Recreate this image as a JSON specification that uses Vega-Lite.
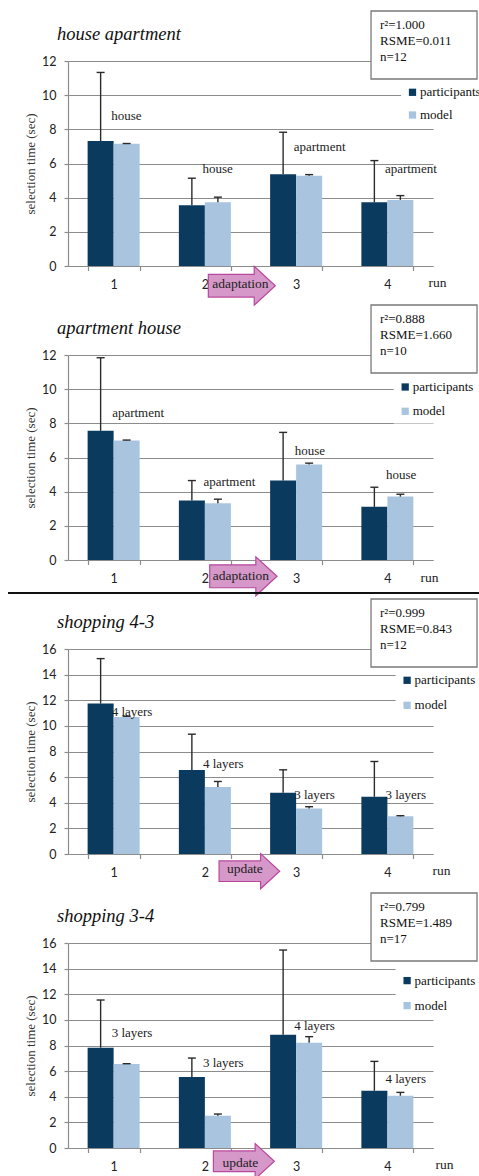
{
  "$schema": "https://vega.github.io/schema/vega-lite/v6.json",
  "padding": {"left": 7, "top": 8, "right": 0, "bottom": 0},
  "background": "white",
  "config": {
    "view": {"stroke": null},
    "font": "Liberation Serif",
    "title": {"font": "Liberation Serif", "fontStyle": "italic", "fontSize": 18.5, "fontWeight": "normal", "color": "#111111"},
    "axis": {"domainColor": "#8c8c8c", "tickColor": "#8c8c8c", "gridColor": "#8c8c8c", "gridWidth": 1.2, "domainWidth": 1.2, "tickWidth": 1.2,
      "labelFont": "Lato", "labelFontSize": 12.5, "labelColor": "#222222", "labelOverlap": false,
      "titleFont": "Liberation Serif", "titleFontSize": 13, "titleFontWeight": "normal", "titleColor": "#333333"},
    "axisX": {"labelAngle": 0, "tickBand": "extent", "grid": false, "tickSize": 4.5, "labelPadding": 7.5, "titleAlign": "left", "titleBaseline": "alphabetic", "titleFontSize": 13.5, "titleColor": "#222222"},
    "axisY": {"grid": true, "tickSize": 4, "labelPadding": 8, "titlePadding": 4},
    "legend": {"fillColor": "white", "padding": 5, "symbolType": "square", "symbolSize": 53, "symbolStrokeWidth": 0, "labelFont": "Liberation Serif", "labelFontSize": 13, "labelColor": "#111111", "labelOffset": 1, "labelLimit": 200}
  },
  "datasets": {
    "bars": [
      {"panel": "ha", "run": "1", "series": "participants", "value": 7.31, "upper": 11.33},
      {"panel": "ha", "run": "1", "series": "model", "value": 7.15, "upper": 7.17},
      {"panel": "ha", "run": "2", "series": "participants", "value": 3.56, "upper": 5.14},
      {"panel": "ha", "run": "2", "series": "model", "value": 3.73, "upper": 4.03},
      {"panel": "ha", "run": "3", "series": "participants", "value": 5.37, "upper": 7.83},
      {"panel": "ha", "run": "3", "series": "model", "value": 5.29, "upper": 5.35},
      {"panel": "ha", "run": "4", "series": "participants", "value": 3.73, "upper": 6.17},
      {"panel": "ha", "run": "4", "series": "model", "value": 3.87, "upper": 4.12},
      {"panel": "ah", "run": "1", "series": "participants", "value": 7.56, "upper": 11.84},
      {"panel": "ah", "run": "1", "series": "model", "value": 7.0, "upper": 7.02},
      {"panel": "ah", "run": "2", "series": "participants", "value": 3.48, "upper": 4.65},
      {"panel": "ah", "run": "2", "series": "model", "value": 3.32, "upper": 3.56},
      {"panel": "ah", "run": "3", "series": "participants", "value": 4.65, "upper": 7.47},
      {"panel": "ah", "run": "3", "series": "model", "value": 5.59, "upper": 5.67},
      {"panel": "ah", "run": "4", "series": "participants", "value": 3.11, "upper": 4.26},
      {"panel": "ah", "run": "4", "series": "model", "value": 3.71, "upper": 3.85},
      {"panel": "s43", "run": "1", "series": "participants", "value": 11.74, "upper": 15.25},
      {"panel": "s43", "run": "1", "series": "model", "value": 10.7, "upper": 10.75},
      {"panel": "s43", "run": "2", "series": "participants", "value": 6.55, "upper": 9.35},
      {"panel": "s43", "run": "2", "series": "model", "value": 5.22, "upper": 5.66},
      {"panel": "s43", "run": "3", "series": "participants", "value": 4.78, "upper": 6.57},
      {"panel": "s43", "run": "3", "series": "model", "value": 3.56, "upper": 3.69},
      {"panel": "s43", "run": "4", "series": "participants", "value": 4.47, "upper": 7.22},
      {"panel": "s43", "run": "4", "series": "model", "value": 2.94, "upper": 2.99},
      {"panel": "s34", "run": "1", "series": "participants", "value": 7.83, "upper": 11.55},
      {"panel": "s34", "run": "1", "series": "model", "value": 6.56, "upper": 6.58},
      {"panel": "s34", "run": "2", "series": "participants", "value": 5.54, "upper": 7.02},
      {"panel": "s34", "run": "2", "series": "model", "value": 2.52, "upper": 2.65},
      {"panel": "s34", "run": "3", "series": "participants", "value": 8.84, "upper": 15.45},
      {"panel": "s34", "run": "3", "series": "model", "value": 8.22, "upper": 8.69},
      {"panel": "s34", "run": "4", "series": "participants", "value": 4.47, "upper": 6.76},
      {"panel": "s34", "run": "4", "series": "model", "value": 4.08, "upper": 4.34}
    ],
    "labels": [
      {"panel": "ha", "run": "1", "label": "house", "y": 8.52},
      {"panel": "ha", "run": "2", "label": "house", "y": 5.43},
      {"panel": "ha", "run": "3", "label": "apartment", "y": 6.76},
      {"panel": "ha", "run": "4", "label": "apartment", "y": 5.43},
      {"panel": "ah", "run": "1", "label": "apartment", "y": 8.36},
      {"panel": "ah", "run": "2", "label": "apartment", "y": 4.34},
      {"panel": "ah", "run": "3", "label": "house", "y": 6.12},
      {"panel": "ah", "run": "4", "label": "house", "y": 4.77},
      {"panel": "s43", "run": "1", "label": "4 layers", "y": 10.8},
      {"panel": "s43", "run": "2", "label": "4 layers", "y": 6.68},
      {"panel": "s43", "run": "3", "label": "3 layers", "y": 4.31},
      {"panel": "s43", "run": "4", "label": "3 layers", "y": 4.31},
      {"panel": "s34", "run": "1", "label": "3 layers", "y": 8.66},
      {"panel": "s34", "run": "2", "label": "3 layers", "y": 6.3},
      {"panel": "s34", "run": "3", "label": "4 layers", "y": 9.21},
      {"panel": "s34", "run": "4", "label": "4 layers", "y": 5.07}
    ],
    "stats": [
      {"panel": "ha", "text": "r²=1.000\nRSME=0.011\nn=12"},
      {"panel": "ah", "text": "r²=0.888\nRSME=1.660\nn=10"},
      {"panel": "s43", "text": "r²=0.999\nRSME=0.843\nn=12"},
      {"panel": "s34", "text": "r²=0.799\nRSME=1.489\nn=17"}
    ],
    "notes": [
      {"panel": "ha", "run": "2", "note": "adaptation"},
      {"panel": "ah", "run": "2", "note": "adaptation"},
      {"panel": "s43", "run": "2", "note": "update"},
      {"panel": "s34", "run": "2", "note": "update"}
    ]
  },
  "bounds": "flush",
  "spacing": 89,
  "resolve": {"scale": {"x": "independent", "y": "independent", "color": "independent", "xOffset": "independent"}, "legend": {"color": "independent"}},
  "vconcat": [
    {
      "width": 365, "height": 205,
      "title": {"text": "house apartment", "anchor": "start", "frame": "group", "dx": -11, "offset": -49.7, "baseline": "alphabetic"},
      "layer": [
        {"data": {"name": "bars"}, "transform": [{"filter": {"field": "panel", "equal": "ha"}}],
          "mark": {"type": "bar"},
          "encoding": {
            "x": {"field": "run", "type": "nominal", "title": "run", "scale": {"domain": ["1", "2", "3", "4"], "paddingInner": 0.43, "paddingOuter": 0.215}, "axis": {"titleX": 360, "titleY": 20.7}},
            "xOffset": {"field": "series", "type": "nominal", "scale": {"domain": ["participants", "model"]}},
            "y": {"field": "value", "type": "quantitative", "title": "selection time (sec)", "scale": {"domain": [0, 12], "nice": false}, "axis": {"values": [0, 2, 4, 6, 8, 10, 12], "tickCount": 7}},
            "color": {"field": "series", "type": "nominal", "scale": {"domain": ["participants", "model"], "range": ["#0B3A5F", "#A9C4DF"]}, "legend": {"title": null, "orient": "none", "legendX": 333, "legendY": 19.8, "rowPadding": 8.7}}
          }},
        {"data": {"name": "bars"}, "transform": [{"filter": {"field": "panel", "equal": "ha"}}],
          "mark": {"type": "rule", "color": "#2b2b2b", "strokeWidth": 1.4},
          "encoding": {"x": {"field": "run", "type": "nominal"}, "xOffset": {"field": "series", "type": "nominal"}, "y": {"field": "value", "type": "quantitative"}, "y2": {"field": "upper"}}},
        {"data": {"name": "bars"}, "transform": [{"filter": {"field": "panel", "equal": "ha"}}],
          "mark": {"type": "tick", "orient": "horizontal", "size": 8, "thickness": 1.4, "color": "#2b2b2b", "opacity": 1},
          "encoding": {"x": {"field": "run", "type": "nominal"}, "xOffset": {"field": "series", "type": "nominal"}, "y": {"field": "upper", "type": "quantitative"}}},
        {"data": {"name": "labels"}, "transform": [{"filter": {"field": "panel", "equal": "ha"}}],
          "mark": {"type": "text", "align": "left", "baseline": "alphabetic", "dx": -2.5, "font": "Liberation Serif", "fontSize": 13, "color": "#222222"},
          "encoding": {"x": {"field": "run", "type": "nominal"}, "y": {"field": "y", "type": "quantitative"}, "text": {"field": "label"}}},
        {"data": {"name": "notes"}, "transform": [{"filter": {"field": "panel", "equal": "ha"}}],
          "mark": {"type": "point", "shape": "M-1,-0.34L0.37,-0.34L0.37,-0.58L1,0L0.37,0.58L0.37,0.34L-1,0.34Z", "size": 4489, "filled": true, "fill": "#D598C8", "stroke": "#B8489E", "strokeWidth": 1.2, "opacity": 1, "xOffset": 36.95, "yOffset": 19.7},
          "encoding": {"x": {"field": "run", "type": "nominal"}, "y": {"datum": 0, "type": "quantitative"}}},
        {"data": {"name": "notes"}, "transform": [{"filter": {"field": "panel", "equal": "ha"}}],
          "mark": {"type": "text", "align": "center", "baseline": "alphabetic", "dx": 35.6, "dy": 22.3, "font": "Liberation Serif", "fontSize": 13.5, "color": "#222222"},
          "encoding": {"x": {"field": "run", "type": "nominal"}, "y": {"datum": 0, "type": "quantitative"}, "text": {"field": "note"}}},
        {"data": {"name": "stats"}, "transform": [{"filter": {"field": "panel", "equal": "ha"}}],
          "mark": {"type": "point", "shape": "M-1,-0.6415L1,-0.6415L1,0.6415L-1,0.6415Z", "size": 11236, "filled": true, "fill": "white", "stroke": "#7a7a7a", "strokeWidth": 1.3, "opacity": 1, "xOffset": 36.65, "yOffset": -16},
          "encoding": {"x": {"datum": "4"}, "y": {"datum": 12, "type": "quantitative"}}},
        {"data": {"name": "stats"}, "transform": [{"filter": {"field": "panel", "equal": "ha"}}],
          "mark": {"type": "text", "align": "left", "baseline": "alphabetic", "lineBreak": "\n", "lineHeight": 16, "dx": -7.4, "dy": -32, "font": "Liberation Serif", "fontSize": 13, "color": "#111111"},
          "encoding": {"x": {"datum": "4"}, "y": {"datum": 12, "type": "quantitative"}, "text": {"field": "text"}}}
      ]
    },
    {
      "width": 365, "height": 205,
      "title": {"text": "apartment house", "anchor": "start", "frame": "group", "dx": -11, "offset": -49.7, "baseline": "alphabetic"},
      "layer": [
        {"data": {"name": "bars"}, "transform": [{"filter": {"field": "panel", "equal": "ah"}}],
          "mark": {"type": "bar"},
          "encoding": {
            "x": {"field": "run", "type": "nominal", "title": "run", "scale": {"domain": ["1", "2", "3", "4"], "paddingInner": 0.43, "paddingOuter": 0.215}, "axis": {"titleX": 352, "titleY": 21.6}},
            "xOffset": {"field": "series", "type": "nominal", "scale": {"domain": ["participants", "model"]}},
            "y": {"field": "value", "type": "quantitative", "title": "selection time (sec)", "scale": {"domain": [0, 12], "nice": false}, "axis": {"values": [0, 2, 4, 6, 8, 10, 12], "tickCount": 7}},
            "color": {"field": "series", "type": "nominal", "scale": {"domain": ["participants", "model"], "range": ["#0B3A5F", "#A9C4DF"]}, "legend": {"title": null, "orient": "none", "legendX": 325.7, "legendY": 20.5, "rowPadding": 10.3}}
          }},
        {"data": {"name": "bars"}, "transform": [{"filter": {"field": "panel", "equal": "ah"}}],
          "mark": {"type": "rule", "color": "#2b2b2b", "strokeWidth": 1.4},
          "encoding": {"x": {"field": "run", "type": "nominal"}, "xOffset": {"field": "series", "type": "nominal"}, "y": {"field": "value", "type": "quantitative"}, "y2": {"field": "upper"}}},
        {"data": {"name": "bars"}, "transform": [{"filter": {"field": "panel", "equal": "ah"}}],
          "mark": {"type": "tick", "orient": "horizontal", "size": 8, "thickness": 1.4, "color": "#2b2b2b", "opacity": 1},
          "encoding": {"x": {"field": "run", "type": "nominal"}, "xOffset": {"field": "series", "type": "nominal"}, "y": {"field": "upper", "type": "quantitative"}}},
        {"data": {"name": "labels"}, "transform": [{"filter": {"field": "panel", "equal": "ah"}}],
          "mark": {"type": "text", "align": "left", "baseline": "alphabetic", "dx": -1.5, "font": "Liberation Serif", "fontSize": 13, "color": "#222222"},
          "encoding": {"x": {"field": "run", "type": "nominal"}, "y": {"field": "y", "type": "quantitative"}, "text": {"field": "label"}}},
        {"data": {"name": "notes"}, "transform": [{"filter": {"field": "panel", "equal": "ah"}}],
          "mark": {"type": "point", "shape": "M-1,-0.34L0.37,-0.34L0.37,-0.58L1,0L0.37,0.58L0.37,0.34L-1,0.34Z", "size": 4529, "filled": true, "fill": "#D598C8", "stroke": "#B8489E", "strokeWidth": 1.2, "opacity": 1, "xOffset": 38.5, "yOffset": 16.3},
          "encoding": {"x": {"field": "run", "type": "nominal"}, "y": {"datum": 0, "type": "quantitative"}}},
        {"data": {"name": "notes"}, "transform": [{"filter": {"field": "panel", "equal": "ah"}}],
          "mark": {"type": "text", "align": "center", "baseline": "alphabetic", "dx": 35.95, "dy": 20, "font": "Liberation Serif", "fontSize": 13.5, "color": "#222222"},
          "encoding": {"x": {"field": "run", "type": "nominal"}, "y": {"datum": 0, "type": "quantitative"}, "text": {"field": "note"}}},
        {"data": {"name": "notes"}, "transform": [{"filter": {"field": "panel", "equal": "ah"}}],
          "mark": {"type": "rule", "color": "#111111", "strokeWidth": 2, "xOffset": -105.6, "x2Offset": 91.65},
          "encoding": {"x": {"datum": "1"}, "x2": {"datum": "4"}, "y": {"datum": -1.93, "type": "quantitative"}}},
        {"data": {"name": "stats"}, "transform": [{"filter": {"field": "panel", "equal": "ah"}}],
          "mark": {"type": "point", "shape": "M-1,-0.6415L1,-0.6415L1,0.6415L-1,0.6415Z", "size": 11236, "filled": true, "fill": "white", "stroke": "#7a7a7a", "strokeWidth": 1.3, "opacity": 1, "xOffset": 36.65, "yOffset": -16},
          "encoding": {"x": {"datum": "4"}, "y": {"datum": 12, "type": "quantitative"}}},
        {"data": {"name": "stats"}, "transform": [{"filter": {"field": "panel", "equal": "ah"}}],
          "mark": {"type": "text", "align": "left", "baseline": "alphabetic", "lineBreak": "\n", "lineHeight": 16, "dx": -7.4, "dy": -32, "font": "Liberation Serif", "fontSize": 13, "color": "#111111"},
          "encoding": {"x": {"datum": "4"}, "y": {"datum": 12, "type": "quantitative"}, "text": {"field": "text"}}}
      ]
    },
    {
      "width": 365, "height": 205,
      "title": {"text": "shopping 4-3", "anchor": "start", "frame": "group", "dx": -11, "offset": -49.7, "baseline": "alphabetic"},
      "layer": [
        {"data": {"name": "bars"}, "transform": [{"filter": {"field": "panel", "equal": "s43"}}],
          "mark": {"type": "bar"},
          "encoding": {
            "x": {"field": "run", "type": "nominal", "title": "run", "scale": {"domain": ["1", "2", "3", "4"], "paddingInner": 0.43, "paddingOuter": 0.215}, "axis": {"titleX": 364, "titleY": 20}},
            "xOffset": {"field": "series", "type": "nominal", "scale": {"domain": ["participants", "model"]}},
            "y": {"field": "value", "type": "quantitative", "title": "selection time (sec)", "scale": {"domain": [0, 16], "nice": false}, "axis": {"values": [0, 2, 4, 6, 8, 10, 12, 14, 16], "tickCount": 9}},
            "color": {"field": "series", "type": "nominal", "scale": {"domain": ["participants", "model"], "range": ["#0B3A5F", "#A9C4DF"]}, "legend": {"title": null, "orient": "none", "legendX": 327.6, "legendY": 19.8, "rowPadding": 11}}
          }},
        {"data": {"name": "bars"}, "transform": [{"filter": {"field": "panel", "equal": "s43"}}],
          "mark": {"type": "rule", "color": "#2b2b2b", "strokeWidth": 1.4},
          "encoding": {"x": {"field": "run", "type": "nominal"}, "xOffset": {"field": "series", "type": "nominal"}, "y": {"field": "value", "type": "quantitative"}, "y2": {"field": "upper"}}},
        {"data": {"name": "bars"}, "transform": [{"filter": {"field": "panel", "equal": "s43"}}],
          "mark": {"type": "tick", "orient": "horizontal", "size": 8, "thickness": 1.4, "color": "#2b2b2b", "opacity": 1},
          "encoding": {"x": {"field": "run", "type": "nominal"}, "xOffset": {"field": "series", "type": "nominal"}, "y": {"field": "upper", "type": "quantitative"}}},
        {"data": {"name": "labels"}, "transform": [{"filter": {"field": "panel", "equal": "s43"}}],
          "mark": {"type": "text", "align": "left", "baseline": "alphabetic", "dx": -2, "font": "Liberation Serif", "fontSize": 13, "color": "#222222"},
          "encoding": {"x": {"field": "run", "type": "nominal"}, "y": {"field": "y", "type": "quantitative"}, "text": {"field": "label"}}},
        {"data": {"name": "notes"}, "transform": [{"filter": {"field": "panel", "equal": "s43"}}],
          "mark": {"type": "point", "shape": "M-1,-0.34L0.37,-0.34L0.37,-0.58L1,0L0.37,0.58L0.37,0.34L-1,0.34Z", "size": 3672, "filled": true, "fill": "#D598C8", "stroke": "#B8489E", "strokeWidth": 1.2, "opacity": 1, "xOffset": 44.5, "yOffset": 17.2},
          "encoding": {"x": {"field": "run", "type": "nominal"}, "y": {"datum": 0, "type": "quantitative"}}},
        {"data": {"name": "notes"}, "transform": [{"filter": {"field": "panel", "equal": "s43"}}],
          "mark": {"type": "text", "align": "center", "baseline": "alphabetic", "dx": 40, "dy": 18.7, "font": "Liberation Serif", "fontSize": 13.5, "color": "#222222"},
          "encoding": {"x": {"field": "run", "type": "nominal"}, "y": {"datum": 0, "type": "quantitative"}, "text": {"field": "note"}}},
        {"data": {"name": "stats"}, "transform": [{"filter": {"field": "panel", "equal": "s43"}}],
          "mark": {"type": "point", "shape": "M-1,-0.6415L1,-0.6415L1,0.6415L-1,0.6415Z", "size": 11236, "filled": true, "fill": "white", "stroke": "#7a7a7a", "strokeWidth": 1.3, "opacity": 1, "xOffset": 36.65, "yOffset": -16},
          "encoding": {"x": {"datum": "4"}, "y": {"datum": 16, "type": "quantitative"}}},
        {"data": {"name": "stats"}, "transform": [{"filter": {"field": "panel", "equal": "s43"}}],
          "mark": {"type": "text", "align": "left", "baseline": "alphabetic", "lineBreak": "\n", "lineHeight": 16, "dx": -7.4, "dy": -32, "font": "Liberation Serif", "fontSize": 13, "color": "#111111"},
          "encoding": {"x": {"datum": "4"}, "y": {"datum": 16, "type": "quantitative"}, "text": {"field": "text"}}}
      ]
    },
    {
      "width": 365, "height": 205,
      "title": {"text": "shopping 3-4", "anchor": "start", "frame": "group", "dx": -11, "offset": -49.7, "baseline": "alphabetic"},
      "layer": [
        {"data": {"name": "bars"}, "transform": [{"filter": {"field": "panel", "equal": "s34"}}],
          "mark": {"type": "bar"},
          "encoding": {
            "x": {"field": "run", "type": "nominal", "title": "run", "scale": {"domain": ["1", "2", "3", "4"], "paddingInner": 0.43, "paddingOuter": 0.215}, "axis": {"titleX": 367, "titleY": 20.3}},
            "xOffset": {"field": "series", "type": "nominal", "scale": {"domain": ["participants", "model"]}},
            "y": {"field": "value", "type": "quantitative", "title": "selection time (sec)", "scale": {"domain": [0, 16], "nice": false}, "axis": {"values": [0, 2, 4, 6, 8, 10, 12, 14, 16], "tickCount": 9}},
            "color": {"field": "series", "type": "nominal", "scale": {"domain": ["participants", "model"], "range": ["#0B3A5F", "#A9C4DF"]}, "legend": {"title": null, "orient": "none", "legendX": 327.6, "legendY": 26.1, "rowPadding": 11}}
          }},
        {"data": {"name": "bars"}, "transform": [{"filter": {"field": "panel", "equal": "s34"}}],
          "mark": {"type": "rule", "color": "#2b2b2b", "strokeWidth": 1.4},
          "encoding": {"x": {"field": "run", "type": "nominal"}, "xOffset": {"field": "series", "type": "nominal"}, "y": {"field": "value", "type": "quantitative"}, "y2": {"field": "upper"}}},
        {"data": {"name": "bars"}, "transform": [{"filter": {"field": "panel", "equal": "s34"}}],
          "mark": {"type": "tick", "orient": "horizontal", "size": 8, "thickness": 1.4, "color": "#2b2b2b", "opacity": 1},
          "encoding": {"x": {"field": "run", "type": "nominal"}, "xOffset": {"field": "series", "type": "nominal"}, "y": {"field": "upper", "type": "quantitative"}}},
        {"data": {"name": "labels"}, "transform": [{"filter": {"field": "panel", "equal": "s34"}}],
          "mark": {"type": "text", "align": "left", "baseline": "alphabetic", "dx": -2, "font": "Liberation Serif", "fontSize": 13, "color": "#222222"},
          "encoding": {"x": {"field": "run", "type": "nominal"}, "y": {"field": "y", "type": "quantitative"}, "text": {"field": "label"}}},
        {"data": {"name": "notes"}, "transform": [{"filter": {"field": "panel", "equal": "s34"}}],
          "mark": {"type": "point", "shape": "M-1,-0.34L0.37,-0.34L0.37,-0.58L1,0L0.37,0.58L0.37,0.34L-1,0.34Z", "size": 3721, "filled": true, "fill": "#D598C8", "stroke": "#B8489E", "strokeWidth": 1.2, "opacity": 1, "xOffset": 39, "yOffset": 13.3},
          "encoding": {"x": {"field": "run", "type": "nominal"}, "y": {"datum": 0, "type": "quantitative"}}},
        {"data": {"name": "notes"}, "transform": [{"filter": {"field": "panel", "equal": "s34"}}],
          "mark": {"type": "text", "align": "center", "baseline": "alphabetic", "dx": 35.5, "dy": 19.3, "font": "Liberation Serif", "fontSize": 13.5, "color": "#222222"},
          "encoding": {"x": {"field": "run", "type": "nominal"}, "y": {"datum": 0, "type": "quantitative"}, "text": {"field": "note"}}},
        {"data": {"name": "stats"}, "transform": [{"filter": {"field": "panel", "equal": "s34"}}],
          "mark": {"type": "point", "shape": "M-1,-0.6415L1,-0.6415L1,0.6415L-1,0.6415Z", "size": 11236, "filled": true, "fill": "white", "stroke": "#7a7a7a", "strokeWidth": 1.3, "opacity": 1, "xOffset": 36.65, "yOffset": -16},
          "encoding": {"x": {"datum": "4"}, "y": {"datum": 16, "type": "quantitative"}}},
        {"data": {"name": "stats"}, "transform": [{"filter": {"field": "panel", "equal": "s34"}}],
          "mark": {"type": "text", "align": "left", "baseline": "alphabetic", "lineBreak": "\n", "lineHeight": 16, "dx": -7.4, "dy": -32, "font": "Liberation Serif", "fontSize": 13, "color": "#111111"},
          "encoding": {"x": {"datum": "4"}, "y": {"datum": 16, "type": "quantitative"}, "text": {"field": "text"}}}
      ]
    }
  ]
}
